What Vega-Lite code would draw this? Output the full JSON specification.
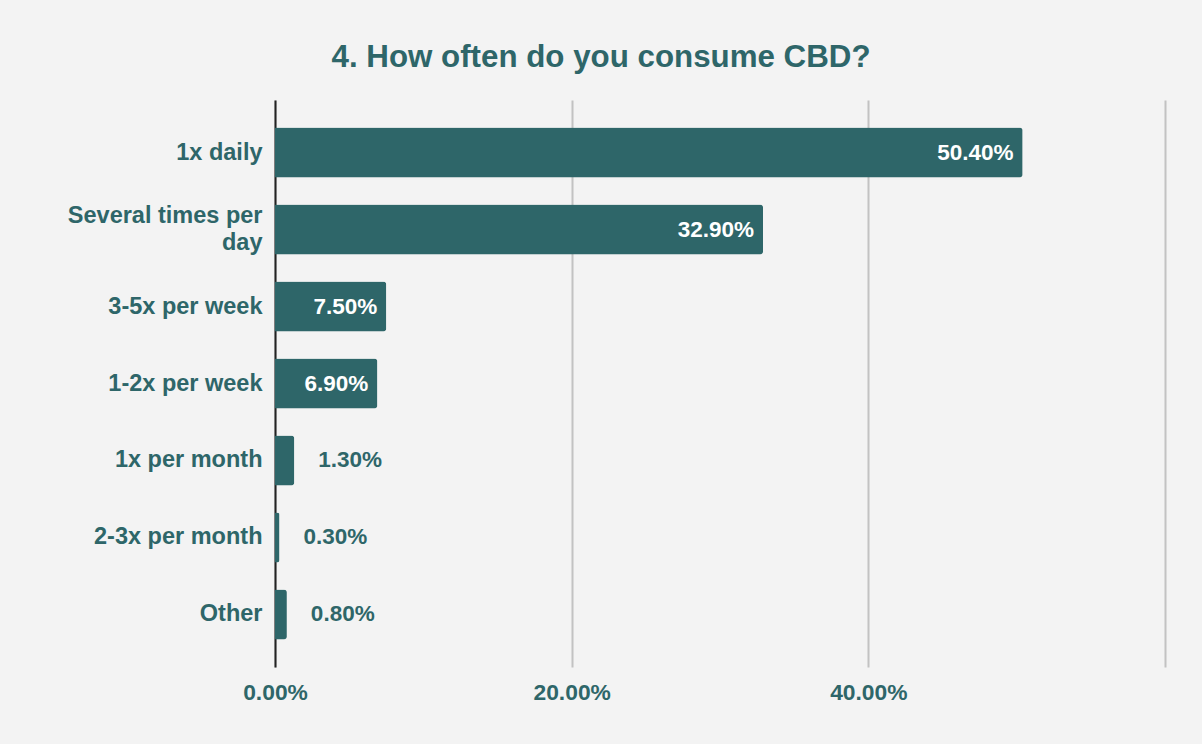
{
  "$schema": "https://vega.github.io/schema/vega-lite/v6.json",
  "width": 890,
  "height": 567,
  "autosize": {"type": "none"},
  "padding": {"top": 100, "left": 275, "right": 37, "bottom": 77},
  "background": "#f3f3f3",
  "title": {
    "text": "4. How often do you consume CBD?",
    "anchor": "middle",
    "frame": "group",
    "dx": -119,
    "offset": 27,
    "font": "Liberation Sans",
    "fontSize": 31.3,
    "fontWeight": "bold",
    "color": "#2e6669"
  },
  "config": {
    "view": {"stroke": null},
    "font": "Liberation Sans"
  },
  "data": {
    "values": [
      {"answer": "1x daily", "share": 0.504},
      {"answer": "Several times per day", "share": 0.329},
      {"answer": "3-5x per week", "share": 0.075},
      {"answer": "1-2x per week", "share": 0.069},
      {"answer": "1x per month", "share": 0.013},
      {"answer": "2-3x per month", "share": 0.003},
      {"answer": "Other", "share": 0.008}
    ]
  },
  "encoding": {
    "y": {
      "field": "answer",
      "type": "nominal",
      "sort": null,
      "title": null,
      "scale": {"paddingInner": 0.35, "paddingOuter": 0.357},
      "axis": {
        "domainColor": "#222222",
        "domainWidth": 2,
        "ticks": false,
        "labelPadding": 13,
        "labelFont": "Liberation Sans",
        "labelFontSize": 23.5,
        "labelFontWeight": "bold",
        "labelColor": "#2e6669",
        "labelLineHeight": 27,
        "labelLimit": 270,
        "labelOffset": {"condition": {"test": "datum.value == 'Several times per day'", "value": -13.5}, "value": 0},
        "labelExpr": "datum.value == 'Several times per day' ? ['Several times per', 'day'] : datum.value"
      }
    },
    "x": {
      "field": "share",
      "type": "quantitative",
      "title": null,
      "scale": {"domain": [0, 0.6], "nice": false},
      "axis": {
        "values": [0, 0.2, 0.4, 0.6],
        "format": ".2%",
        "labelExpr": "datum.value >= 0.59 ? '' : datum.label",
        "labelFlush": false,
        "domain": false,
        "ticks": false,
        "grid": true,
        "gridColor": "#c2c2c2",
        "gridWidth": 2,
        "labelPadding": 14,
        "labelFont": "Liberation Sans",
        "labelFontSize": 22.8,
        "labelFontWeight": "bold",
        "labelColor": "#2e6669"
      }
    }
  },
  "layer": [
    {
      "mark": {"type": "bar", "color": "#2e6669", "cornerRadiusEnd": 3}
    },
    {
      "transform": [{"filter": "datum.share > 0.05"}],
      "mark": {"type": "text", "align": "right", "dx": -9, "color": "#ffffff", "fontSize": 22.5, "fontWeight": "bold", "font": "Liberation Sans"},
      "encoding": {"text": {"field": "share", "format": ".2%"}}
    },
    {
      "transform": [{"filter": "datum.share <= 0.05"}],
      "mark": {"type": "text", "align": "left", "dx": 24, "color": "#2e6669", "fontSize": 22.5, "fontWeight": "bold", "font": "Liberation Sans"},
      "encoding": {"text": {"field": "share", "format": ".2%"}}
    }
  ]
}
